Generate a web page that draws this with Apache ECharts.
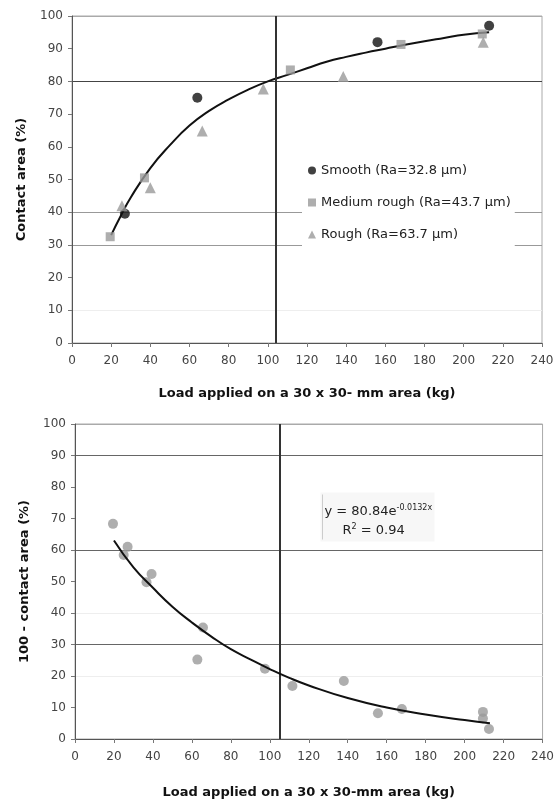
<!DOCTYPE html>
<html>
<head>
<meta charset="utf-8">
<script src="https://cdn.jsdelivr.net/npm/echarts@6/dist/echarts.min.js"></script>
<style>
  html, body { margin: 0; padding: 0; background: #fff; }
  #chart { width: 557px; height: 801px; }
</style>
</head>
<body>
<div id="chart"></div>
<script>
// contact area (%) vs load (kg), three surface roughnesses
const smooth = [[27, 39.5], [64, 75], [156, 92], [213, 97]];
const mediumRough = [[19.5, 32.5], [37, 50.5], [111.5, 83.5], [168, 91.3], [209.5, 94.5]];
const rough = [[25.5, 42], [40, 47.5], [66.5, 64.8], [97.7, 77.7], [138.5, 81.5], [210, 92]];
// trend curve drawn through the top chart
const fitTop = [[20, 33], [25, 39], [30, 44.5], [40, 53.5], [50, 60.5], [60, 66.5], [70, 71],
  [80, 74.5], [90, 77.5], [100, 80], [110, 82], [120, 84], [130, 86], [140, 87.5], [150, 88.8],
  [160, 90], [170, 91.2], [180, 92.3], [190, 93.3], [200, 94.3], [213, 95]];
// 100 - contact area (%)
const remaining = [[19.5, 68.3], [25, 58.4], [27, 61], [36.7, 49.8], [39.3, 52.4], [62.8, 25.2],
  [65.7, 35.4], [97.5, 22.3], [111.6, 16.8], [138, 18.4], [155.5, 8.2], [167.8, 9.5],
  [209.4, 8.6], [209.4, 6.5], [212.5, 3.2]];
const fitBottom = [[20, 63], [30, 54.5], [40, 48], [50, 42], [60, 37], [70, 32.5], [80, 28.5],
  [90, 25.3], [100, 22.2], [110, 19.4], [120, 17], [140, 13], [160, 10], [180, 7.8], [200, 6], [213, 5]];
const thresholdTop = 104;
const thresholdBottom = 105;

const xTitleTop = 'Load applied on a 30 x 30- mm area (kg)';
const xTitleBottom = 'Load applied on a 30 x 30-mm area (kg)';

var chart = echarts.init(document.getElementById('chart'));

var font = 'DejaVu Sans';
var tickLabel = { color: '#444', fontSize: 12, fontFamily: font };
var nameStyle = { color: '#111', fontSize: 13, fontWeight: 'bold', fontFamily: font };

function xAxis(gridIndex, name, gap) {
  return {
    type: 'value', gridIndex: gridIndex, min: 0, max: 240, interval: 20,
    name: name, nameLocation: 'middle', nameGap: gap, nameTextStyle: nameStyle,
    axisLine: { show: true, lineStyle: { color: '#555' } },
    axisTick: { show: true, length: 4, lineStyle: { color: '#777' } },
    axisLabel: Object.assign({ margin: 12 }, tickLabel),
    splitLine: { show: false }
  };
}

function yAxis(gridIndex, name, lineColors) {
  return {
    type: 'value', gridIndex: gridIndex, min: 0, max: 100, interval: 10,
    name: name, nameLocation: 'middle', nameGap: 44, nameTextStyle: nameStyle,
    axisLine: { show: true, lineStyle: { color: '#555' } },
    axisTick: { show: true, length: 4, lineStyle: { color: '#777' } },
    axisLabel: Object.assign({ margin: 9 }, tickLabel),
    splitLine: { show: true, lineStyle: { color: lineColors, width: 1 } }
  };
}

var vline = function (x) {
  return {
    silent: true, symbol: 'none', animation: false,
    label: { show: false },
    lineStyle: { color: '#333', width: 2, type: 'solid' },
    data: [{ xAxis: x }]
  };
};

var eqRich = {
  a: { fontSize: 13, fontFamily: font, fill: '#222', lineHeight: 16, verticalAlign: 'bottom' },
  s: { fontSize: 8, fontFamily: font, fill: '#222', lineHeight: 10, verticalAlign: 'bottom', padding: [0, 0, 7, 0] }
};

chart.setOption({
  animation: false,
  backgroundColor: '#fff',
  grid: [
    { left: 72, right: 15, top: 16, bottom: 458, show: true, borderColor: '#aaa', borderWidth: 1 },
    { left: 75, right: 11, top: 424, bottom: 62, show: true, borderColor: '#aaa', borderWidth: 1 }
  ],
  xAxis: [xAxis(0, xTitleTop, 44), xAxis(1, xTitleBottom, 47)],
  yAxis: [
    yAxis(0, 'Contact area (%)',
      ['transparent', '#eeeeee', 'transparent', '#999', '#999', 'transparent', 'transparent', 'transparent', '#444', 'transparent', '#aaa']),
    yAxis(1, '100 - contact area (%)',
      ['transparent', 'transparent', '#eeeeee', '#666', '#eeeeee', 'transparent', '#666', 'transparent', 'transparent', '#666', '#aaa'])
  ],
  legend: {
    orient: 'vertical', left: 302, top: 152,
    padding: [12, 4, 14, 6],
    itemGap: 19, itemWidth: 8, itemHeight: 8,
    backgroundColor: '#fff',
    textStyle: { color: '#222', fontSize: 13, fontFamily: font },
    data: [
      { name: 'Smooth (Ra=32.8 µm)', icon: 'circle' },
      { name: 'Medium rough (Ra=43.7 µm)', icon: 'rect' },
      { name: 'Rough (Ra=63.7 µm)', icon: 'triangle' }
    ]
  },
  graphic: [
    {
      type: 'group', left: 320, top: 492, z: 10,
      children: [
        { type: 'rect', shape: { x: 0, y: 0, width: 114, height: 49 }, style: { fill: '#f7f7f7' } },
        { type: 'line', shape: { x1: 2, y1: 2, x2: 2, y2: 47 }, style: { stroke: '#ccc', lineWidth: 1 } },
        {
          type: 'text', x: 4, y: 10,
          style: { text: '{a|y = 80.84e}{s|-0.0132x}', rich: eqRich }
        },
        {
          type: 'text', x: 22, y: 29,
          style: { text: '{a|R}{s|2}{a| = 0.94}', rich: eqRich }
        }
      ]
    }
  ],
  series: [
    {
      name: 'fit-top', type: 'line', xAxisIndex: 0, yAxisIndex: 0, data: fitTop,
      smooth: true, showSymbol: false, silent: true, z: 3,
      lineStyle: { color: '#111', width: 2 },
      markLine: vline(thresholdTop)
    },
    {
      name: 'Smooth (Ra=32.8 µm)', type: 'scatter', xAxisIndex: 0, yAxisIndex: 0, data: smooth,
      symbol: 'circle', symbolSize: 10, itemStyle: { color: '#111' }, z: 4
    },
    {
      name: 'Medium rough (Ra=43.7 µm)', type: 'scatter', xAxisIndex: 0, yAxisIndex: 0, data: mediumRough,
      symbol: 'rect', symbolSize: 9, itemStyle: { color: '#9a9a9a' }, z: 4
    },
    {
      name: 'Rough (Ra=63.7 µm)', type: 'scatter', xAxisIndex: 0, yAxisIndex: 0, data: rough,
      symbol: 'triangle', symbolSize: 11, itemStyle: { color: '#9a9a9a' }, z: 4
    },
    {
      name: 'remaining', type: 'scatter', xAxisIndex: 1, yAxisIndex: 1, data: remaining,
      symbol: 'circle', symbolSize: 10, itemStyle: { color: '#9a9a9a' }, z: 4
    },
    {
      name: 'fit-bottom', type: 'line', xAxisIndex: 1, yAxisIndex: 1, data: fitBottom,
      smooth: true, showSymbol: false, silent: true, z: 5,
      lineStyle: { color: '#111', width: 2 },
      markLine: vline(thresholdBottom)
    }
  ]
});
</script>
</body>
</html>
